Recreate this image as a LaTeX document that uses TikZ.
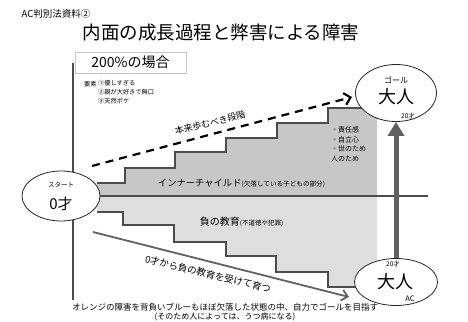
\documentclass[tikz,border=0pt]{standalone}
\usepackage{fontspec}
\setmainfont{Noto Sans CJK JP}
\usetikzlibrary{shapes.geometric,arrows.meta}

\definecolor{upgray}{gray}{0.78}
\definecolor{lowgray}{gray}{0.87}
\definecolor{linegray}{gray}{0.3}
\definecolor{arrowgray}{gray}{0.38}

\newcommand{\fs}[1]{\fontsize{#1}{#1}\selectfont}

\tikzset{
  oval/.style={draw=black!85, thick, fill=white, ellipse, inner sep=0pt},
  txt/.style={inner sep=0pt, font=\fs{#1}},
  stairline/.style={draw=linegray, line width=1.3pt},
  axisline/.style={draw=linegray, line width=1.1pt},
}

\begin{document}
\begin{tikzpicture}[x=1pt,y=-1pt]
\useasboundingbox (0,0) rectangle (468,321);
% headings
\node[txt=9.5] (docno) at (56,14) {AC判別法資料②};
\node[txt=18.5] (title) at (221,33) {内面の成長過程と弊害による障害};
\node[draw=gray!45, inner sep=0pt, minimum width=111pt, minimum height=21pt, font=\fs{14}] (casebox) at (130.5,62.5) {200\%の場合};
\node[txt=6.2, anchor=west] (elemhead) at (84,84) {要素};
\node[txt=6.2, anchor=north west, align=left, font=\fontsize{6.2}{9}\selectfont] (elemlist) at (98,80.5) {①優しすぎる\\②親が大好きで無口\\③天然ボケ};
% left axis
\coordinate (axistop) at (73,63);
\coordinate (axisbot) at (73,300);
\draw[axisline] (axistop) -- (axisbot);
% stairs
\fill[upgray] (97,183) -- (125,183) -- (125,168) -- (175,168) -- (175,152) -- (226,152) -- (226,138) -- (277,138) -- (277,123) -- (328,123) -- (328,108) -- (377,108) -- (377,196) -- (97,196) -- cycle;
\fill[lowgray] (97,212) -- (123,212) -- (123,225) -- (174,225) -- (174,242) -- (226,242) -- (226,256) -- (276,256) -- (276,272) -- (328,272) -- (328,287) -- (377,287) -- (377,196) -- (97,196) -- cycle;
\draw[stairline] (97,183) -- (125,183) -- (125,168) -- (175,168) -- (175,152) -- (226,152) -- (226,138) -- (277,138) -- (277,123) -- (328,123) -- (328,108) -- (377,108);
\draw[stairline] (97,212) -- (123,212) -- (123,225) -- (174,225) -- (174,242) -- (226,242) -- (226,256) -- (276,256) -- (276,272) -- (328,272) -- (328,287) -- (370,287);
% ellipses
\node[oval, minimum width=78pt, minimum height=50pt] (start) at (61,196) {};
\node[oval, minimum width=81pt, minimum height=57pt] (goal) at (396,93) {};
\node[oval, minimum width=83pt, minimum height=47pt] (ac) at (396,282) {};
\coordinate (midend) at (428,196);
\draw[axisline] (start.east) -- (midend);
\draw[arrowgray, line width=5pt, -{Triangle[width=16pt,length=14pt]}] (ac) -- (goal);
% texts in ellipses
\node[txt=6.5] (startcap) at (61,185) {スタート};
\node[txt=15] (startage) at (61,204) {0才};
\node[txt=8] (goalcap) at (396,80) {ゴール};
\node[txt=18] (goalname) at (396,97) {大人};
\node[txt=6.5] (goalage) at (408,116) {20才};
\node[txt=6.5] (acage) at (393,264) {20才};
\node[txt=18] (acname) at (395,282) {大人};
\node[txt=7.5] (actag) at (410,299) {AC};
% arrows
\coordinate (dashstart) at (92,166);
\coordinate (dashend) at (352,97);
\draw[line width=2.2pt, dash pattern=on 8pt off 6pt, -{Straight Barb[length=6pt,width=12pt]}] (dashstart) -- (dashend);
\node[txt=9, rotate=14] (pathlabel) at (210,123) {本来歩むべき段階};
\coordinate (downstart) at (93,232);
\coordinate (downend) at (349,297);
\draw[arrowgray, line width=1.8pt, -{Straight Barb[length=6pt,width=11pt]}] (downstart) -- (downend);
\node[txt=9.5, rotate=-13.5] (downlabel) at (208,274) {0才から負の教育を受けて育つ};
% region labels
\node[txt=9.3] (innerlabel) at (241.5,184) {インナーチャイルド{\fs{6.6}(欠落している子どもの部分)}};
\node[txt=10] (negedu) at (241.5,222) {負の教育{\fs{6.5}(不道徳や犯罪)}};
\node[anchor=north west, inner sep=0pt, align=left, font=\fontsize{7}{9.6}\selectfont] (traits) at (331,126.5) {・責任感\\・自立心\\・世のため\\人のため};
% footnote
\node[inner sep=0pt, align=center, font=\fontsize{8.5}{9.2}\selectfont] (footnote) at (225,312.5) {オレンジの障害を背負いブルーもほぼ欠落した状態の中、自力でゴールを目指す\\{\fs{8}(そのため人によっては、うつ病になる)}};
\end{tikzpicture}
\end{document}
